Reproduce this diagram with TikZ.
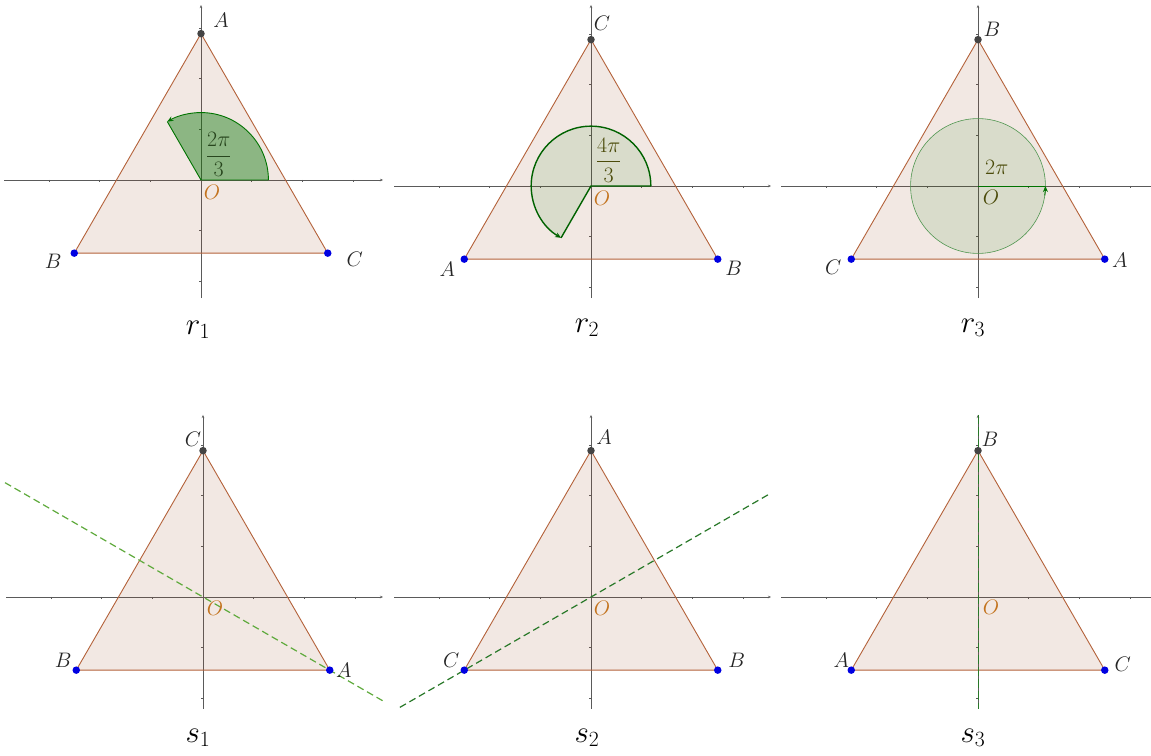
\RequirePackage{fix-cm}
\documentclass[tikz,border=0pt]{standalone}
\usetikzlibrary{arrows.meta}
\definecolor{axiscol}{RGB}{90,90,90}
\definecolor{trib}{RGB}{160,82,45}
\definecolor{triedgec}{RGB}{180,98,58}
\definecolor{dotgray}{RGB}{68,68,68}
\definecolor{dotblue}{RGB}{0,0,225}
\definecolor{ocol}{RGB}{195,115,30}
\definecolor{secg}{RGB}{0,115,0}
\definecolor{secthin}{RGB}{80,150,80}
\definecolor{fraccol}{RGB}{40,70,30}
\definecolor{fracol}{RGB}{75,75,10}
\definecolor{dashlight}{RGB}{95,170,60}
\definecolor{dashdark}{RGB}{40,120,40}
\tikzset{
  axisline/.style={draw=axiscol,line width=0.6pt},
  trifill/.style={fill=trib,fill opacity=0.13},
  triedge/.style={draw=triedgec,line width=0.9pt,line join=round},
  topdot/.style={circle,fill=dotgray,inner sep=0pt,minimum size=7.5pt},
  botdot/.style={circle,fill=dotblue,inner sep=0pt,minimum size=7.5pt},
  vlab/.style={font=\fontsize{21}{24}\selectfont,inner sep=0pt,text=black!85},
  olab/.style={font=\fontsize{21}{24}\selectfont,inner sep=0pt,text=ocol},
  panellab/.style={font=\fontsize{31}{34}\selectfont,inner sep=0pt},
  fraclab/.style={font=\fontsize{22}{26}\selectfont,inner sep=0pt},
  secdark/.style={fill=secg,fill opacity=0.42},
  seclight/.style={fill=secg,fill opacity=0.1},
  secedge/.style={draw=secg,line width=0.9pt},
  secedgeb/.style={draw=secg!85!black,line width=1.4pt},
  circedge/.style={draw=secthin,line width=0.6pt},
  tiparrow/.style={-{Stealth[length=6pt,width=5pt]}},
  dashA/.style={draw=dashlight,line width=1.2pt,dash pattern=on 7pt off 4pt},
  dashB/.style={draw=dashdark,line width=1.2pt,dash pattern=on 7pt off 4pt},
  dashC/.style={draw=dashdark,line width=1pt,dash pattern=on 9pt off 3pt}
}
% #1 prefix, #2 x max, #3 y min, #4 y max, #5 arrow option for x axis
\newcommand\basepanel[5]{%
  \coordinate (#1O) at (0,0);
  \coordinate (#1T) at (0,2.887);
  \coordinate (#1L) at (-2.5,-1.443);
  \coordinate (#1R) at (2.5,-1.443);
  \coordinate (#1xa) at (-3.88,0);
  \coordinate (#1xb) at (#2,0);
  \coordinate (#1ya) at (0,#3);
  \coordinate (#1yb) at (0,#4);
  \draw[axisline,#5] (#1xa) -- (#1xb);
  \draw[axisline,-{Stealth[length=3pt,width=2.5pt]}] (#1ya) -- (#1yb);
  \foreach \i in {-3,-2,-1,1,2,3} \draw[axisline] (\i,0) -- ++(0,-2pt);
  \foreach \j in {-2,-1,1,2,3} \draw[axisline] (0,\j) -- ++(-2pt,0);
  \fill[trifill] (#1T) -- (#1L) -- (#1R) -- cycle;
  \draw[triedge] (#1T) -- (#1L) -- (#1R) -- cycle;
}
\newcommand\vertdots[1]{%
  \node[topdot] (#1dT) at (#1T) {};
  \node[botdot] (#1dL) at (#1L) {};
  \node[botdot] (#1dR) at (#1R) {};
}
\begin{document}
\begin{tikzpicture}[x=1pt,y=1pt]
\useasboundingbox (0,0) rectangle (1151,755);
\fill[white] (0,0) rectangle (1151,755);

% ---------- r1 ----------
\begin{scope}[shift={(201pt,575pt)},x=50.7pt,y=50.7pt]
  \basepanel{ra}{3.59}{-2.33}{3.45}{-{Stealth[length=3pt,width=2.5pt]}}
  \fill[secdark] (raO) -- (1.33,0) arc[start angle=0,end angle=120,radius=1.33] -- cycle;
  \draw[secedge] (120:1.33) -- (raO) -- (1.33,0);
  \draw[secedge,tiparrow] (1.33,0) arc[start angle=0,end angle=120,radius=1.33];
  \node[fraclab,text=fraccol] (rafrac) at (0.35,0.5) {$\displaystyle\frac{2\pi}{3}$};
  \vertdots{ra}
  \node[vlab] (raTl) at ([shift={(20pt,13pt)}]raT) {$A$};
  \node[vlab] (raLl) at ([shift={(-21pt,-8pt)}]raL) {$B$};
  \node[vlab] (raRl) at ([shift={(27pt,-6pt)}]raR) {$C$};
  \node[olab] (raOl) at ([shift={(11pt,-12pt)}]raO) {$O$};
\end{scope}
\node[panellab] (labr1) at (198,425) {$r_1$};

% ---------- r2 ----------
\begin{scope}[shift={(591pt,569pt)},x=50.7pt,y=50.7pt]
  \basepanel{rb}{3.55}{-2.21}{3.57}{-{Stealth[length=3pt,width=2.5pt]}}
  \fill[seclight] (rbO) -- (1.18,0) arc[start angle=0,end angle=240,radius=1.18] -- cycle;
  \draw[secedgeb] (240:1.18) -- (rbO) -- (1.18,0);
  \draw[secedgeb,tiparrow] (1.18,0) arc[start angle=0,end angle=240,radius=1.18];
  \node[fraclab,text=fracol] (rbfrac) at (0.35,0.51) {$\displaystyle\frac{4\pi}{3}$};
  \vertdots{rb}
  \node[vlab] (rbTl) at ([shift={(11pt,16pt)}]rbT) {$C$};
  \node[vlab] (rbLl) at ([shift={(-17pt,-10pt)}]rbL) {$A$};
  \node[vlab] (rbRl) at ([shift={(16pt,-9pt)}]rbR) {$B$};
  \node[olab] (rbOl) at ([shift={(11pt,-12pt)}]rbO) {$O$};
\end{scope}
\node[panellab] (labr2) at (587,427) {$r_2$};

% ---------- r3 ----------
\begin{scope}[shift={(978pt,569pt)},x=50.7pt,y=50.7pt]
  \basepanel{rc}{3.41}{-2.21}{3.57}{}
  \fill[seclight] (rcO) circle[radius=1.33];
  \draw[circedge] (rcO) circle[radius=1.33];
  \draw[secedge] (rcO) -- (1.33,0);
  \draw[secedge,tiparrow] (-8:1.33) arc[start angle=-8,end angle=0,radius=1.33];
  \node[fraclab,text=fracol] (rcfrac) at (0.37,0.36) {$2\pi$};
  \vertdots{rc}
  \node[vlab] (rcTl) at ([shift={(14pt,10pt)}]rcT) {$B$};
  \node[vlab] (rcLl) at ([shift={(-18pt,-8pt)}]rcL) {$C$};
  \node[vlab] (rcRl) at ([shift={(15pt,-1pt)}]rcR) {$A$};
  \node[olab,text=fracol] (rcOl) at ([shift={(13pt,-11pt)}]rcO) {$O$};
\end{scope}
\node[panellab] (labr3) at (973,427) {$r_3$};

% ---------- s1 ----------
\begin{scope}[shift={(203pt,158pt)},x=50.7pt,y=50.7pt]
  \basepanel{sa}{3.55}{-2.2}{3.59}{-{Stealth[length=3pt,width=2.5pt]}}
  \coordinate (saD1) at (-3.905,2.255);
  \coordinate (saD2) at (3.55,-2.05);
  \draw[dashA] (saD1) -- (saD2);
  \vertdots{sa}
  \node[vlab] (saTl) at ([shift={(-10pt,11pt)}]saT) {$C$};
  \node[vlab] (saLl) at ([shift={(-13pt,10pt)}]saL) {$B$};
  \node[vlab] (saRl) at ([shift={(14pt,0pt)}]saR) {$A$};
  \node[olab] (saOl) at ([shift={(12pt,-11pt)}]saO) {$O$};
\end{scope}
\node[panellab] (labs1) at (198,17) {$s_1$};

% ---------- s2 ----------
\begin{scope}[shift={(591pt,158pt)},x=50.7pt,y=50.7pt]
  \basepanel{sb}{3.55}{-2.2}{3.59}{-{Stealth[length=3pt,width=2.5pt]}}
  \coordinate (sbD1) at (-3.77,-2.177);
  \coordinate (sbD2) at (3.53,2.038);
  \draw[dashB] (sbD1) -- (sbD2);
  \vertdots{sb}
  \node[vlab] (sbTl) at ([shift={(13pt,13pt)}]sbT) {$A$};
  \node[vlab] (sbLl) at ([shift={(-13pt,10pt)}]sbL) {$C$};
  \node[vlab] (sbRl) at ([shift={(19pt,10pt)}]sbR) {$B$};
  \node[olab] (sbOl) at ([shift={(11pt,-11pt)}]sbO) {$O$};
\end{scope}
\node[panellab] (labs2) at (587,17) {$s_2$};

% ---------- s3 ----------
\begin{scope}[shift={(978pt,158pt)},x=50.7pt,y=50.7pt]
  \basepanel{sc}{3.41}{-2.2}{3.59}{}
  \coordinate (scD1) at (0,3.59);
  \coordinate (scD2) at (0,-2.2);
  \draw[dashC] (scD1) -- (scD2);
  \vertdots{sc}
  \node[vlab] (scTl) at ([shift={(12pt,11pt)}]scT) {$B$};
  \node[vlab] (scLl) at ([shift={(-10pt,10pt)}]scL) {$A$};
  \node[vlab] (scRl) at ([shift={(18pt,6pt)}]scR) {$C$};
  \node[olab] (scOl) at ([shift={(13pt,-10pt)}]scO) {$O$};
\end{scope}
\node[panellab] (labs3) at (973,17) {$s_3$};
\end{tikzpicture}
\end{document}
